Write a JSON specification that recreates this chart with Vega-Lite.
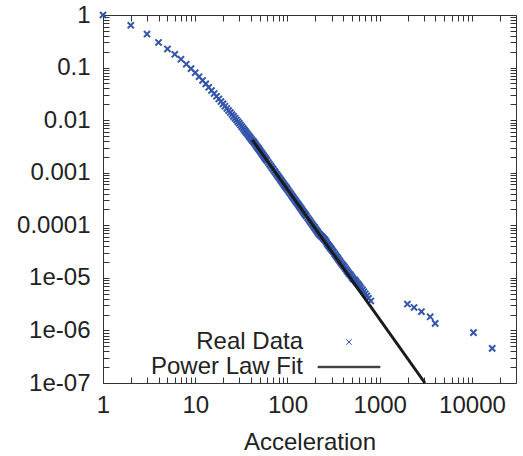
{
  "$schema": "https://vega.github.io/schema/vega-lite/v6.json",
  "width": 413,
  "height": 368,
  "autosize": {"type": "none"},
  "padding": {"left": 103, "top": 15, "right": 7, "bottom": 73},
  "background": "white",
  "config": {
    "view": {"stroke": null},
    "font": "Liberation Sans",
    "axis": {
      "grid": false,
      "domainColor": "#333333",
      "tickColor": "#333333",
      "labelColor": "#222222",
      "labelFont": "Liberation Sans",
      "labelFontSize": 24,
      "labelFlush": false,
      "labelOverlap": false,
      "labelBound": false,
      "tickWidth": 1,
      "tickSize": -6,
      "domainWidth": 1,
      "titleFont": "Liberation Sans",
      "titleFontSize": 24,
      "titleFontWeight": "normal",
      "titleColor": "#222222"
    }
  },
  "datasets": {
    "real": [
      {"acceleration": 1, "probability": 1, "series": "Real Data"},
      {"acceleration": 2, "probability": 0.637, "series": "Real Data"},
      {"acceleration": 3, "probability": 0.435, "series": "Real Data"},
      {"acceleration": 4, "probability": 0.30, "series": "Real Data"},
      {"acceleration": 5, "probability": 0.226, "series": "Real Data"},
      {"acceleration": 6, "probability": 0.179, "series": "Real Data"},
      {"acceleration": 7, "probability": 0.1435, "series": "Real Data"},
      {"acceleration": 8, "probability": 0.116, "series": "Real Data"},
      {"acceleration": 9, "probability": 0.0955, "series": "Real Data"},
      {"acceleration": 10, "probability": 0.080, "series": "Real Data"},
      {"acceleration": 11, "probability": 0.067, "series": "Real Data"},
      {"acceleration": 12, "probability": 0.0569, "series": "Real Data"},
      {"acceleration": 13, "probability": 0.049, "series": "Real Data"},
      {"acceleration": 14, "probability": 0.0422, "series": "Real Data"},
      {"acceleration": 15, "probability": 0.0366, "series": "Real Data"},
      {"acceleration": 16, "probability": 0.0321, "series": "Real Data"},
      {"acceleration": 17, "probability": 0.0284, "series": "Real Data"},
      {"acceleration": 18, "probability": 0.0253, "series": "Real Data"},
      {"acceleration": 19, "probability": 0.0226, "series": "Real Data"},
      {"acceleration": 20, "probability": 0.0204, "series": "Real Data"},
      {"acceleration": 21, "probability": 0.01843, "series": "Real Data"},
      {"acceleration": 22, "probability": 0.01671, "series": "Real Data"},
      {"acceleration": 23, "probability": 0.01522, "series": "Real Data"},
      {"acceleration": 24, "probability": 0.01393, "series": "Real Data"},
      {"acceleration": 25, "probability": 0.01278, "series": "Real Data"},
      {"acceleration": 26, "probability": 0.01178, "series": "Real Data"},
      {"acceleration": 27, "probability": 0.01087, "series": "Real Data"},
      {"acceleration": 28, "probability": 0.01007, "series": "Real Data"},
      {"acceleration": 29, "probability": 0.00935, "series": "Real Data"},
      {"acceleration": 30, "probability": 0.00871, "series": "Real Data"},
      {"acceleration": 31, "probability": 0.00807, "series": "Real Data"},
      {"acceleration": 32, "probability": 0.00751, "series": "Real Data"},
      {"acceleration": 33, "probability": 0.0070, "series": "Real Data"},
      {"acceleration": 34, "probability": 0.00653, "series": "Real Data"},
      {"acceleration": 35, "probability": 0.00611, "series": "Real Data"},
      {"acceleration": 36, "probability": 0.00573, "series": "Real Data"},
      {"acceleration": 37, "probability": 0.00538, "series": "Real Data"},
      {"acceleration": 38, "probability": 0.00506, "series": "Real Data"},
      {"acceleration": 39, "probability": 0.00476, "series": "Real Data"},
      {"acceleration": 40, "probability": 0.00449, "series": "Real Data"},
      {"acceleration": 41, "probability": 0.00425, "series": "Real Data"},
      {"acceleration": 42, "probability": 0.00402, "series": "Real Data"},
      {"acceleration": 43, "probability": 0.00386, "series": "Real Data"},
      {"acceleration": 44, "probability": 0.00364, "series": "Real Data"},
      {"acceleration": 45, "probability": 0.00345, "series": "Real Data"},
      {"acceleration": 46, "probability": 0.00326, "series": "Real Data"},
      {"acceleration": 47, "probability": 0.00310, "series": "Real Data"},
      {"acceleration": 48, "probability": 0.00294, "series": "Real Data"},
      {"acceleration": 49, "probability": 0.00279, "series": "Real Data"},
      {"acceleration": 50, "probability": 0.00266, "series": "Real Data"},
      {"acceleration": 51, "probability": 0.00253, "series": "Real Data"},
      {"acceleration": 52, "probability": 0.00241, "series": "Real Data"},
      {"acceleration": 53, "probability": 0.00230, "series": "Real Data"},
      {"acceleration": 54, "probability": 0.00220, "series": "Real Data"},
      {"acceleration": 55, "probability": 0.00210, "series": "Real Data"},
      {"acceleration": 56, "probability": 0.00201, "series": "Real Data"},
      {"acceleration": 57, "probability": 0.00192, "series": "Real Data"},
      {"acceleration": 58, "probability": 0.00184, "series": "Real Data"},
      {"acceleration": 59, "probability": 0.00177, "series": "Real Data"},
      {"acceleration": 60, "probability": 0.00169, "series": "Real Data"},
      {"acceleration": 62, "probability": 0.00156, "series": "Real Data"},
      {"acceleration": 64, "probability": 0.00144, "series": "Real Data"},
      {"acceleration": 66, "probability": 0.00134, "series": "Real Data"},
      {"acceleration": 68, "probability": 0.00124, "series": "Real Data"},
      {"acceleration": 70, "probability": 0.00116, "series": "Real Data"},
      {"acceleration": 72, "probability": 0.00108, "series": "Real Data"},
      {"acceleration": 74, "probability": 0.00101, "series": "Real Data"},
      {"acceleration": 76, "probability": 0.000945, "series": "Real Data"},
      {"acceleration": 78, "probability": 0.000886, "series": "Real Data"},
      {"acceleration": 80, "probability": 0.000832, "series": "Real Data"},
      {"acceleration": 82, "probability": 0.000783, "series": "Real Data"},
      {"acceleration": 84, "probability": 0.000738, "series": "Real Data"},
      {"acceleration": 86, "probability": 0.000696, "series": "Real Data"},
      {"acceleration": 88, "probability": 0.000658, "series": "Real Data"},
      {"acceleration": 90, "probability": 0.000622, "series": "Real Data"},
      {"acceleration": 92, "probability": 0.000589, "series": "Real Data"},
      {"acceleration": 94, "probability": 0.000559, "series": "Real Data"},
      {"acceleration": 96, "probability": 0.000530, "series": "Real Data"},
      {"acceleration": 98, "probability": 0.000504, "series": "Real Data"},
      {"acceleration": 100, "probability": 0.000480, "series": "Real Data"},
      {"acceleration": 103, "probability": 0.000446, "series": "Real Data"},
      {"acceleration": 106, "probability": 0.000415, "series": "Real Data"},
      {"acceleration": 109, "probability": 0.000388, "series": "Real Data"},
      {"acceleration": 112, "probability": 0.000363, "series": "Real Data"},
      {"acceleration": 115, "probability": 0.000340, "series": "Real Data"},
      {"acceleration": 118, "probability": 0.000319, "series": "Real Data"},
      {"acceleration": 121, "probability": 0.000300, "series": "Real Data"},
      {"acceleration": 124, "probability": 0.000282, "series": "Real Data"},
      {"acceleration": 127, "probability": 0.000266, "series": "Real Data"},
      {"acceleration": 130, "probability": 0.000251, "series": "Real Data"},
      {"acceleration": 133, "probability": 0.000237, "series": "Real Data"},
      {"acceleration": 136, "probability": 0.000225, "series": "Real Data"},
      {"acceleration": 139, "probability": 0.000213, "series": "Real Data"},
      {"acceleration": 142, "probability": 0.000202, "series": "Real Data"},
      {"acceleration": 145, "probability": 0.000191, "series": "Real Data"},
      {"acceleration": 148, "probability": 0.000182, "series": "Real Data"},
      {"acceleration": 151, "probability": 0.000173, "series": "Real Data"},
      {"acceleration": 154, "probability": 0.000165, "series": "Real Data"},
      {"acceleration": 157, "probability": 0.000157, "series": "Real Data"},
      {"acceleration": 160, "probability": 0.000150, "series": "Real Data"},
      {"acceleration": 165, "probability": 0.000139, "series": "Real Data"},
      {"acceleration": 170, "probability": 0.000129, "series": "Real Data"},
      {"acceleration": 175, "probability": 0.000120, "series": "Real Data"},
      {"acceleration": 180, "probability": 0.000112, "series": "Real Data"},
      {"acceleration": 185, "probability": 0.000105, "series": "Real Data"},
      {"acceleration": 190, "probability": 0.0000982, "series": "Real Data"},
      {"acceleration": 195, "probability": 0.0000922, "series": "Real Data"},
      {"acceleration": 200, "probability": 0.0000866, "series": "Real Data"},
      {"acceleration": 205, "probability": 0.0000814, "series": "Real Data"},
      {"acceleration": 210, "probability": 0.0000768, "series": "Real Data"},
      {"acceleration": 215, "probability": 0.0000724, "series": "Real Data"},
      {"acceleration": 220, "probability": 0.0000684, "series": "Real Data"},
      {"acceleration": 225, "probability": 0.0000660, "series": "Real Data"},
      {"acceleration": 230, "probability": 0.0000631, "series": "Real Data"},
      {"acceleration": 235, "probability": 0.0000610, "series": "Real Data"},
      {"acceleration": 240, "probability": 0.0000591, "series": "Real Data"},
      {"acceleration": 245, "probability": 0.0000566, "series": "Real Data"},
      {"acceleration": 250, "probability": 0.0000544, "series": "Real Data"},
      {"acceleration": 255, "probability": 0.0000523, "series": "Real Data"},
      {"acceleration": 260, "probability": 0.0000498, "series": "Real Data"},
      {"acceleration": 265, "probability": 0.0000471, "series": "Real Data"},
      {"acceleration": 270, "probability": 0.0000445, "series": "Real Data"},
      {"acceleration": 275, "probability": 0.0000426, "series": "Real Data"},
      {"acceleration": 280, "probability": 0.0000407, "series": "Real Data"},
      {"acceleration": 285, "probability": 0.0000393, "series": "Real Data"},
      {"acceleration": 290, "probability": 0.0000377, "series": "Real Data"},
      {"acceleration": 295, "probability": 0.0000361, "series": "Real Data"},
      {"acceleration": 300, "probability": 0.0000347, "series": "Real Data"},
      {"acceleration": 308, "probability": 0.0000327, "series": "Real Data"},
      {"acceleration": 316, "probability": 0.0000307, "series": "Real Data"},
      {"acceleration": 325, "probability": 0.0000286, "series": "Real Data"},
      {"acceleration": 334, "probability": 0.0000267, "series": "Real Data"},
      {"acceleration": 343, "probability": 0.0000250, "series": "Real Data"},
      {"acceleration": 352, "probability": 0.0000235, "series": "Real Data"},
      {"acceleration": 362, "probability": 0.0000219, "series": "Real Data"},
      {"acceleration": 372, "probability": 0.0000205, "series": "Real Data"},
      {"acceleration": 382, "probability": 0.0000192, "series": "Real Data"},
      {"acceleration": 393, "probability": 0.0000179, "series": "Real Data"},
      {"acceleration": 404, "probability": 0.0000171, "series": "Real Data"},
      {"acceleration": 415, "probability": 0.0000160, "series": "Real Data"},
      {"acceleration": 427, "probability": 0.0000149, "series": "Real Data"},
      {"acceleration": 439, "probability": 0.0000139, "series": "Real Data"},
      {"acceleration": 451, "probability": 0.0000130, "series": "Real Data"},
      {"acceleration": 464, "probability": 0.0000121, "series": "Real Data"},
      {"acceleration": 477, "probability": 0.0000116, "series": "Real Data"},
      {"acceleration": 490, "probability": 0.0000109, "series": "Real Data"},
      {"acceleration": 504, "probability": 0.0000101, "series": "Real Data"},
      {"acceleration": 518, "probability": 0.00000947, "series": "Real Data"},
      {"acceleration": 537, "probability": 0.00000909, "series": "Real Data"},
      {"acceleration": 548, "probability": 0.00000864, "series": "Real Data"},
      {"acceleration": 560, "probability": 0.00000818, "series": "Real Data"},
      {"acceleration": 577, "probability": 0.00000773, "series": "Real Data"},
      {"acceleration": 593, "probability": 0.00000727, "series": "Real Data"},
      {"acceleration": 609, "probability": 0.00000682, "series": "Real Data"},
      {"acceleration": 626, "probability": 0.00000636, "series": "Real Data"},
      {"acceleration": 651, "probability": 0.00000591, "series": "Real Data"},
      {"acceleration": 672, "probability": 0.00000545, "series": "Real Data"},
      {"acceleration": 697, "probability": 0.00000500, "series": "Real Data"},
      {"acceleration": 724, "probability": 0.00000455, "series": "Real Data"},
      {"acceleration": 755, "probability": 0.00000409, "series": "Real Data"},
      {"acceleration": 800, "probability": 0.00000364, "series": "Real Data"},
      {"acceleration": 1995, "probability": 0.00000318, "series": "Real Data"},
      {"acceleration": 2355, "probability": 0.00000273, "series": "Real Data"},
      {"acceleration": 2832, "probability": 0.00000227, "series": "Real Data"},
      {"acceleration": 3524, "probability": 0.00000182, "series": "Real Data"},
      {"acceleration": 3990, "probability": 0.00000136, "series": "Real Data"},
      {"acceleration": 10380, "probability": 0.000000909, "series": "Real Data"},
      {"acceleration": 16560, "probability": 0.000000455, "series": "Real Data"}
    ],
    "fit": [
      {"acceleration": 41.6, "probability": 0.0042},
      {"acceleration": 3090, "probability": 0.0000001}
    ]
  },
  "layer": [
    {
      "data": {"name": "real"},
      "mark": {"type": "point", "filled": false, "opacity": 1, "size": 38},
      "encoding": {
        "x": {
          "field": "acceleration", "type": "quantitative",
          "scale": {"type": "log", "domain": [1, 30000], "nice": false},
          "axis": {
            "orient": "bottom",
            "values": [1,2,3,4,5,6,7,8,9,10,20,30,40,50,60,70,80,90,100,200,300,400,500,600,700,800,900,1000,2000,3000,4000,5000,6000,7000,8000,9000,10000,20000],
            "labelExpr": "abs(log(datum.value)/LN10 - round(log(datum.value)/LN10)) > 0.001 ? '' : format(datum.value, 'd')",
            "encode": {"ticks": {"update": {"y2": {"signal": "abs(log(datum.value)/LN10 - round(log(datum.value)/LN10)) < 0.001 ? -6 : -3"}}}},
            "labelPadding": 16,
            "title": "Acceleration",
            "titlePadding": 13
          }
        },
        "y": {
          "field": "probability", "type": "quantitative",
          "scale": {"type": "log", "domain": [0.0000001, 1], "nice": false},
          "axis": {
            "orient": "left",
            "values": [1e-7,2e-7,3e-7,4e-7,5e-7,6e-7,7e-7,8e-7,9e-7,1e-6,2e-6,3e-6,4e-6,5e-6,6e-6,7e-6,8e-6,9e-6,1e-5,2e-5,3e-5,4e-5,5e-5,6e-5,7e-5,8e-5,9e-5,0.0001,0.0002,0.0003,0.0004,0.0005,0.0006,0.0007,0.0008,0.0009,0.001,0.002,0.003,0.004,0.005,0.006,0.007,0.008,0.009,0.01,0.02,0.03,0.04,0.05,0.06,0.07,0.08,0.09,0.1,0.2,0.3,0.4,0.5,0.6,0.7,0.8,0.9,1],
            "labelExpr": "abs(log(datum.value)/LN10 - round(log(datum.value)/LN10)) > 0.001 ? '' : (datum.value > 0.00005 ? format(datum.value, '~g') : '1e-0' + (-round(log(datum.value)/LN10)))",
            "encode": {"ticks": {"update": {"x2": {"signal": "abs(log(datum.value)/LN10 - round(log(datum.value)/LN10)) < 0.001 ? 6 : 3"}}}},
            "labelPadding": 19,
            "title": null
          }
        },
        "color": {
          "field": "series", "type": "nominal",
          "scale": {"domain": ["Real Data", "Power Law Fit"], "range": ["#3355aa", "#1a1a1a"]},
          "legend": {
            "title": null, "orient": "none", "legendX": 234, "legendY": 315, "padding": 0,
            "labelAlign": "right", "labelOffset": -58, "labelFontSize": 24, "labelFont": "Liberation Sans",
            "labelColor": "#222222", "rowPadding": 1, "symbolSize": 30, "symbolStrokeWidth": 1
          }
        },
        "shape": {
          "field": "series", "type": "nominal",
          "scale": {"domain": ["Real Data", "Power Law Fit"], "range": ["M-1,-1L1,1M-1,1L1,-1", "M-11.3,-0.25L11.3,-0.25L11.3,0.25L-11.3,0.25Z"]},
          "legend": {
            "title": null, "orient": "none", "legendX": 234, "legendY": 315, "padding": 0,
            "labelAlign": "right", "labelOffset": -58, "labelFontSize": 24, "labelFont": "Liberation Sans",
            "labelColor": "#222222", "rowPadding": 1, "symbolSize": 30, "symbolStrokeWidth": 1
          }
        }
      }
    },
    {
      "data": {"name": "fit"},
      "mark": {"type": "line", "color": "#1a1a1a", "strokeWidth": 3},
      "encoding": {
        "x": {
          "field": "acceleration", "type": "quantitative",
          "scale": {"type": "log", "domain": [1, 30000], "nice": false},
          "axis": {
            "orient": "top",
            "values": [1,2,3,4,5,6,7,8,9,10,20,30,40,50,60,70,80,90,100,200,300,400,500,600,700,800,900,1000,2000,3000,4000,5000,6000,7000,8000,9000,10000,20000],
            "labels": false,
            "encode": {"ticks": {"update": {"y2": {"signal": "abs(log(datum.value)/LN10 - round(log(datum.value)/LN10)) < 0.001 ? 6 : 3"}}}},
            "title": null
          }
        },
        "y": {
          "field": "probability", "type": "quantitative",
          "scale": {"type": "log", "domain": [0.0000001, 1], "nice": false},
          "axis": {
            "orient": "right",
            "values": [1e-7,2e-7,3e-7,4e-7,5e-7,6e-7,7e-7,8e-7,9e-7,1e-6,2e-6,3e-6,4e-6,5e-6,6e-6,7e-6,8e-6,9e-6,1e-5,2e-5,3e-5,4e-5,5e-5,6e-5,7e-5,8e-5,9e-5,0.0001,0.0002,0.0003,0.0004,0.0005,0.0006,0.0007,0.0008,0.0009,0.001,0.002,0.003,0.004,0.005,0.006,0.007,0.008,0.009,0.01,0.02,0.03,0.04,0.05,0.06,0.07,0.08,0.09,0.1,0.2,0.3,0.4,0.5,0.6,0.7,0.8,0.9,1],
            "labels": false,
            "encode": {"ticks": {"update": {"x2": {"signal": "abs(log(datum.value)/LN10 - round(log(datum.value)/LN10)) < 0.001 ? -6 : -3"}}}},
            "title": null
          }
        }
      }
    }
  ],
  "resolve": {"axis": {"x": "independent", "y": "independent"}}
}
